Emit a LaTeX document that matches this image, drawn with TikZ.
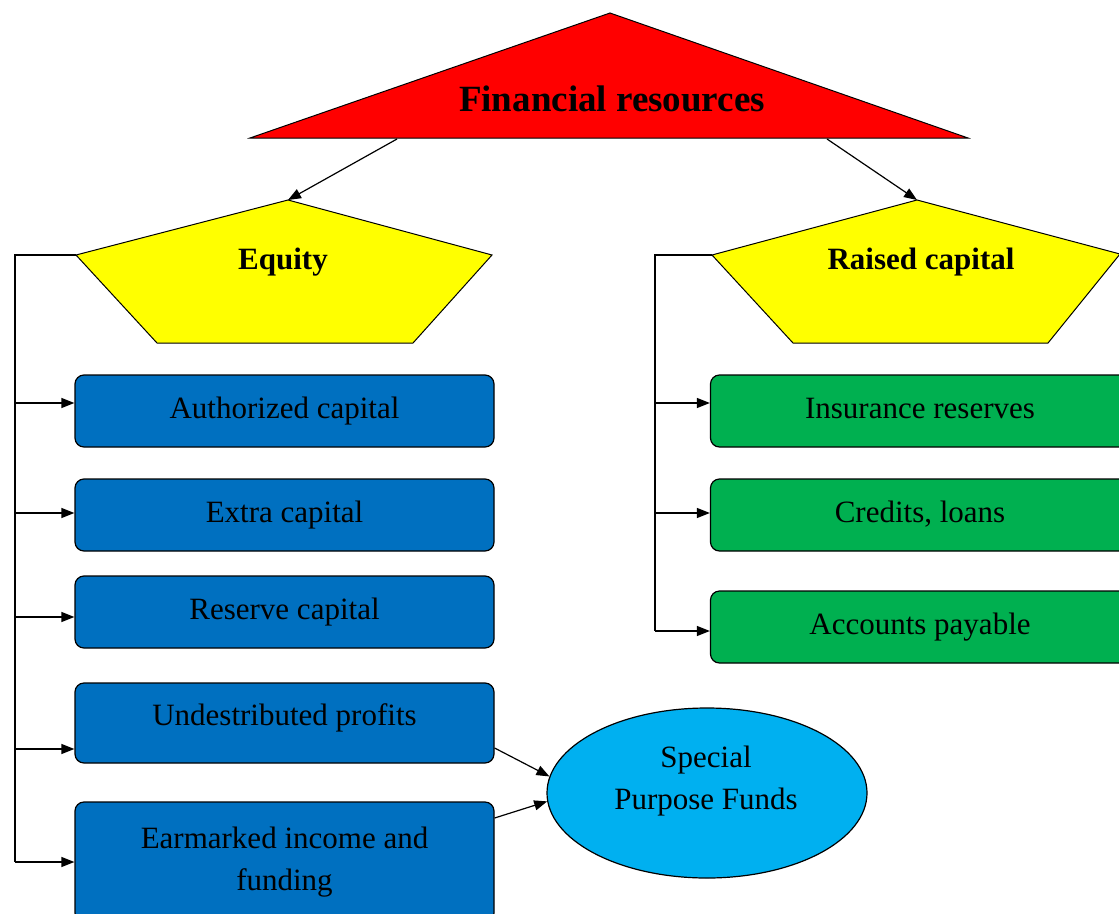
\documentclass[tikz,border=0pt]{standalone}
\usepackage{fontspec}
\setmainfont{Liberation Serif}
\usetikzlibrary{arrows.meta, shapes.geometric}

\definecolor{frred}{HTML}{FF0000}
\definecolor{capyellow}{HTML}{FFFF00}
\definecolor{eqblue}{HTML}{0070C0}
\definecolor{rcgreen}{HTML}{00B050}
\definecolor{fundblue}{HTML}{00B0F0}

\begin{document}
\begin{tikzpicture}[x=1pt, y=-1pt, line width=1.2pt, >={Triangle[length=13pt, width=10pt]}]
    \tikzset{box/.style={draw, rounded corners=9pt, minimum width=419pt, minimum height=72pt, text height=22pt, text depth=8pt, font=\fontsize{31}{42}\selectfont}};
    \tikzset{plate/.style={draw, line width=1pt}};
    \tikzset{title/.style={font=\bfseries\fontsize{31}{38}\selectfont}};

    \useasboundingbox (0, 0) rectangle (1119, 913);

    % Root
    \path (610, 13) coordinate (fr-t) (250, 138) coordinate (fr-l) (968, 138) coordinate (fr-r);
    \draw [plate, fill=frred] (fr-t) -- (fr-r) -- (fr-l) -- cycle;
    \node [title, font=\bfseries\fontsize{37}{44}\selectfont] (fr) at (612, 99) {Financial resources};
    \path (397, 139) coordinate (fr-a) (827, 139) coordinate (fr-b);

    % Level 1
    \path (288, 200) coordinate (eq-t) (76, 255) coordinate (eq-l);
    \draw [plate, fill=capyellow] (eq-t) -- (492, 255) -- (413, 343) -- (157, 343) -- (eq-l) -- cycle;
    \node [title] (eq) at (283, 262) {Equity};

    \path (917, 200) coordinate (rc-t) (712, 255) coordinate (rc-l);
    \draw [plate, fill=capyellow] (rc-t) -- (1120, 254) -- (1048, 343) -- (793, 343) -- (rc-l) -- cycle;
    \node [title] (rc) at (921, 262) {Raised capital};

    % Level 2
    \node [box, fill=eqblue] (auth) at (284.5, 411) {Authorized capital};
    \node [box, fill=eqblue] (extra) at (284.5, 515) {Extra capital};
    \node [box, fill=eqblue] (reserve) at (284.5, 612) {Reserve capital};
    \node [box, fill=eqblue, minimum height=80pt, text depth=18pt] (profit) at (284.5, 723) {Undestributed profits};
    \node [box, fill=eqblue, minimum height=120pt, text depth=, text height=, align=center] (earmark) at (284.5, 862) {Earmarked income and\\funding};

    \node [box, fill=rcgreen] (insur) at (920, 411) {Insurance reserves};
    \node [box, fill=rcgreen] (credit) at (920, 515) {Credits, loans};
    \node [box, fill=rcgreen] (payable) at (920, 627) {Accounts payable};

    % Level 3
    \node [draw, ellipse, fill=fundblue, minimum width=320pt, minimum height=170pt] (funds) at (707, 793) {};
    \node [align=center, font=\fontsize{31}{42}\selectfont] (funds-txt) at (706, 781) {Special\\Purpose Funds};

    % Edges
    \draw [->] (fr-a) -- (eq-t);
    \draw [->] (fr-b) -- (rc-t);

    \draw (eq-l) -- (15, 255) -- (15, 862);
    \foreach \b/\y in {auth/403, extra/513, reserve/617, profit/749, earmark/862} { \draw [->] (15, \y) -- (15, \y -| \b.west); }

    \draw (rc-l) -- (655, 255) -- (655, 631);
    \foreach \b/\y in {insur/403, credit/513, payable/631} { \draw [->] (655, \y) -- (655, \y -| \b.west); }

    \draw [->] ([yshift=-25pt] profit.east) -- (funds.174);
    \draw [->] ([yshift=44pt] earmark.east) -- (funds.183);
  \end{tikzpicture}
\end{document}
